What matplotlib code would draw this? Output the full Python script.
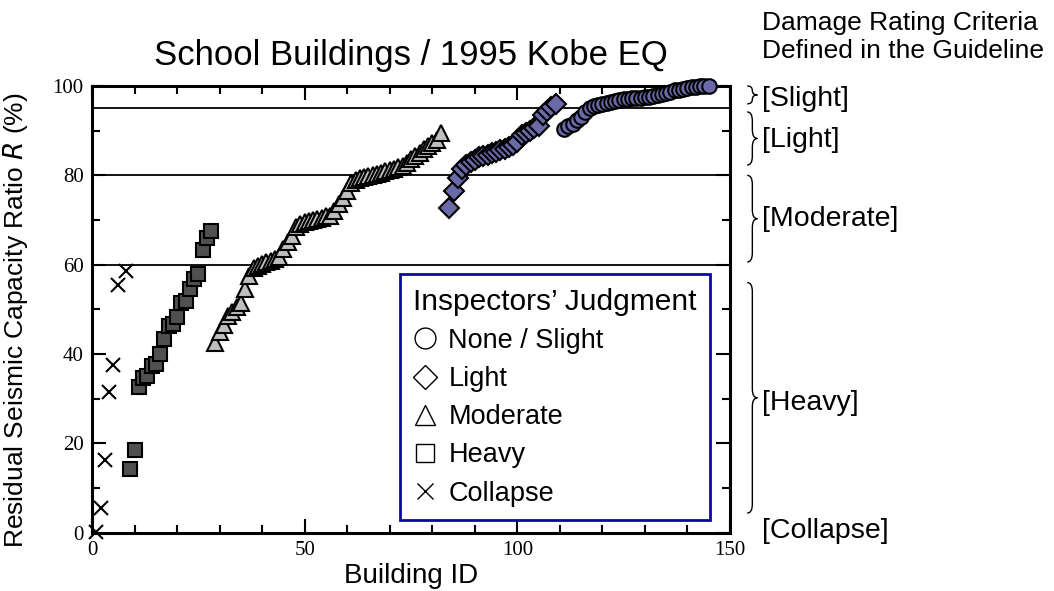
import numpy as np
import matplotlib.pyplot as plt
import matplotlib.transforms as mtransforms
from matplotlib.lines import Line2D
from matplotlib.path import Path
from matplotlib.patches import PathPatch
from matplotlib.ticker import MultipleLocator

plt.rcParams['font.family'] = ['Liberation Sans', 'DejaVu Sans']

# building id / residual seismic capacity ratio R (%) per inspectors' judgment
collapse_id = [1, 2, 3, 4, 5, 6, 8]
collapse_r = [0.2, 5.5, 16.2, 31.6, 37.6, 55.4, 58.6]

heavy_id = list(range(9, 29))
heavy_r = [14.2, 18.6, 32.7, 34.7, 35.1, 37.4, 37.7, 40.0, 43.3, 46.3,
           46.7, 48.2, 51.5, 51.9, 54.5, 56.7, 57.9, 63.2, 65.9, 67.6]

moderate_id = list(range(29, 83))
moderate_r = [42.5, 45.0, 46.5, 48.5, 49.5, 50.5, 51.5, 54.5, 57.5, 59.3,
              59.8, 60.2, 60.5, 60.8, 61.2, 61.8, 63.5, 65.0, 66.5, 68.5,
              69.2, 69.5, 69.8, 70.0, 70.2, 70.5, 70.8, 71.0, 72.0, 73.5,
              75.0, 76.5, 78.2,
              79.0, 79.4, 79.6, 79.8, 80.0, 80.3, 80.6, 80.9, 81.2, 81.5,
              81.9, 82.2, 82.8, 83.6, 84.3, 85.0, 85.8, 86.5, 87.2, 88.0, 89.4]

light_id = list(range(84, 110))
light_r = [72.7, 76.5, 79.5, 81.5, 82.3, 83.0, 83.5, 84.0, 84.3, 84.6,
           85.0, 85.3, 85.6, 86.0, 86.3, 86.8, 87.5, 89.0, 89.5, 90.0,
           90.5, 91.0, 93.5, 94.3, 95.2, 96.0]

none_id = list(range(111, 146))
none_r = [90.3, 91.0, 91.6, 92.3, 93.0, 94.2, 95.0, 95.5, 95.8, 96.0,
          96.2, 96.4, 96.6, 96.8, 97.0, 97.1, 97.2, 97.3, 97.4, 97.5,
          97.6, 97.8, 98.0, 98.2, 98.5, 98.7, 99.0, 99.2, 99.4, 99.6,
          99.7, 99.8, 99.9, 100.0, 100.0]

limits = [60, 80, 95]
criteria = ['[Slight]', '[Light]', '[Moderate]', '[Heavy]', '[Collapse]']
brace_ranges = [(96.0, 100.0), (82.3, 94.2), (60.6, 80.0), (4.4, 56.0)]
label_y = [97.0, 88.0, 70.3, 29.0, 0.3]

legend_labels = ['None / Slight', 'Light', 'Moderate', 'Heavy', 'Collapse']


def brace(ax, y0, y1, x, w, r):
    # vertical curly brace, tip pointing right; x in axes fraction, y in data
    trans = mtransforms.blended_transform_factory(ax.transAxes, ax.transData)
    r = min(r, (y1 - y0) / 4)
    xm = x + w / 2
    ym = (y0 + y1) / 2
    verts = [(x, y0), (xm, y0), (xm, y0 + r), (xm, ym - r),
             (xm, ym), (x + w, ym), (xm, ym), (xm, ym + r),
             (xm, y1 - r), (xm, y1), (x, y1)]
    codes = [Path.MOVETO, Path.CURVE3, Path.CURVE3, Path.LINETO,
             Path.CURVE3, Path.CURVE3, Path.CURVE3, Path.CURVE3,
             Path.LINETO, Path.CURVE3, Path.CURVE3]
    ax.add_patch(PathPatch(Path(verts, codes), fc='none', ec='black', lw=1.0,
                           transform=trans, clip_on=False))


fig = plt.figure(figsize=(10.54, 5.91), dpi=100)
ax = fig.add_axes([0.0873, 0.0986, 0.6053, 0.7559])

for lim in limits:
    ax.axhline(lim, color='black', lw=1.3, zorder=1)

mk = dict(ls='none', mec='black', mew=1.5, clip_on=False, zorder=3)
ax.plot(collapse_id, collapse_r, marker='x', ms=10, color='black', mew=1.5,
        ls='none', clip_on=False, zorder=3)
ax.plot(heavy_id, heavy_r, marker='s', ms=10, mfc='#505050', **mk)
ax.plot(moderate_id, moderate_r, marker='^', ms=11, mfc='#bebebe', **mk)
ax.plot(light_id, light_r, marker='D', ms=10, mfc='#6a6aa8', **mk)
ax.plot(none_id, none_r, marker='o', ms=10.5, mfc='#6a6aa8', **mk)

ax.set_xlim(0, 150)
ax.set_ylim(0, 100)
ax.xaxis.set_major_locator(MultipleLocator(50))
ax.xaxis.set_minor_locator(MultipleLocator(10))
ax.yaxis.set_major_locator(MultipleLocator(20))
ax.yaxis.set_minor_locator(MultipleLocator(10))
ax.tick_params(which='both', direction='in', top=True, right=True, width=1.5)
ax.tick_params(which='major', length=10, labelsize=15, pad=6)
ax.tick_params(which='minor', length=6)
for lab in ax.get_xticklabels() + ax.get_yticklabels():
    lab.set_family('Liberation Serif')
for sp in ax.spines.values():
    sp.set_linewidth(2.2)

ax.set_title('School Buildings / 1995 Kobe EQ', fontsize=25, pad=15)
ax.set_xlabel('Building ID', fontsize=20, labelpad=2)
ax.set_ylabel('Residual Seismic Capacity Ratio $R$ (%)', fontsize=19)
ax.yaxis.set_label_coords(-0.097, 0.475)

handles = [Line2D([], [], ls='none', marker=m, ms=s, mfc='none', mec='black', mew=1)
           for m, s in zip(['o', 'D', '^', 's', 'x'], [15, 12, 15, 13, 12])]
leg = ax.legend(handles, legend_labels, title='Inspectors\u2019 Judgment',
                loc='lower right', bbox_to_anchor=(0.969, 0.028),
                borderaxespad=0, fontsize=19.5, title_fontsize=21.5,
                alignment='left', handlelength=0.9, handletextpad=0.4,
                labelspacing=0.45, borderpad=0.5, fancybox=False, framealpha=1)
leg.get_frame().set_edgecolor('#0a0aa0')
leg.get_frame().set_linewidth(2)

for (y0, y1) in brace_ranges:
    brace(ax, y0, y1, 1.027, 0.016, 2.0)

for text, y in zip(criteria, label_y):
    ax.text(1.05, y, text, transform=mtransforms.blended_transform_factory(ax.transAxes, ax.transData),
            fontsize=20.5, va='center', ha='left', clip_on=False)

ax.text(1.05, 1.052, 'Damage Rating Criteria\nDefined in the Guideline',
        transform=ax.transAxes, fontsize=19, va='bottom', ha='left',
        linespacing=1.2)

fig.savefig('out.png', dpi=100)
